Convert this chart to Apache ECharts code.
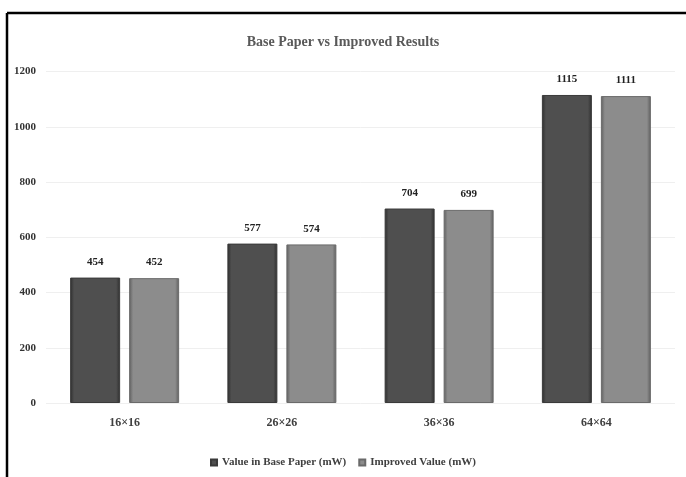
<!DOCTYPE html>
<html>
<head>
<meta charset="utf-8">
<script src="https://cdn.jsdelivr.net/npm/echarts@6/dist/echarts.min.js"></script>
<style>html,body{margin:0;padding:0;background:#fff;}#c{width:686px;height:477px;}</style>
</head>
<body>
<div id="c"></div>
<script>
const categories = ['16×16', '26×26', '36×36', '64×64'];
const baseValues = [454, 577, 704, 1115];
const improvedValues = [452, 574, 699, 1111];
const seriesNames = ['Value in Base Paper (mW)', 'Improved Value (mW)'];
const yTicks = [0, 200, 400, 600, 800, 1000, 1200];

const font = '"Liberation Serif", "Times New Roman", serif';
function grad(edge, mid, top) {
  return new echarts.graphic.LinearGradient(0, 0, 1, 0, [
    {offset: 0, color: edge}, {offset: 0.08, color: mid}, {offset: 0.92, color: mid}, {offset: 1, color: edge}
  ]);
}
const chart = echarts.init(document.getElementById('c'));
chart.setOption({
  animation: false,
  backgroundColor: '#fff',
  title: {
    text: 'Base Paper vs Improved Results', left: 'center', top: 30,
    textStyle: {fontFamily: font, fontSize: 14, fontWeight: 'bold', color: '#595959'}
  },
  legend: {
    bottom: 4, left: 'center', itemWidth: 6, itemHeight: 6, itemGap: 12, icon: 'rect',
    textStyle: {fontFamily: font, fontSize: 11, fontWeight: 'bold', color: '#404040'},
    data: seriesNames
  },
  grid: {left: 46, right: 11, top: 71.5, bottom: 74},
  xAxis: {
    type: 'category', data: categories,
    axisLine: {show: false}, axisTick: {show: false},
    axisLabel: {fontFamily: font, fontSize: 12, fontWeight: 'bold', color: '#404040', margin: 14}
  },
  yAxis: {
    type: 'value', min: 0, max: 1200, interval: 200,
    axisLine: {show: false}, axisTick: {show: false},
    axisLabel: {fontFamily: font, fontSize: 11, fontWeight: 'bold', color: '#333', margin: 10,
      formatter: v => yTicks.includes(v) ? String(v) : ''},
    splitLine: {lineStyle: {color: '#efefef', width: 1}}
  },
  series: [
    {
      name: seriesNames[0], type: 'bar', data: baseValues, barWidth: 50, barGap: '18%',
      itemStyle: {color: grad('#2e2e2e', '#4f4f4f'), borderColor: '#3a3a3a', borderWidth: 1},
      label: {show: true, position: 'top', distance: 10, fontFamily: font, fontSize: 11, fontWeight: 'bold', color: '#222'}
    },
    {
      name: seriesNames[1], type: 'bar', data: improvedValues, barWidth: 50,
      itemStyle: {color: grad('#5e5e5e', '#8c8c8c'), borderColor: '#6a6a6a', borderWidth: 1},
      label: {show: true, position: 'top', distance: 10, fontFamily: font, fontSize: 11, fontWeight: 'bold', color: '#222'}
    }
  ],
  graphic: [
    {type: 'line', shape: {x1: 7, y1: 13, x2: 686, y2: 13}, style: {stroke: '#000', lineWidth: 2.5}, silent: true},
    {type: 'line', shape: {x1: 7, y1: 13, x2: 7, y2: 477}, style: {stroke: '#000', lineWidth: 2.5}, silent: true}
  ]
});
</script>
</body>
</html>
